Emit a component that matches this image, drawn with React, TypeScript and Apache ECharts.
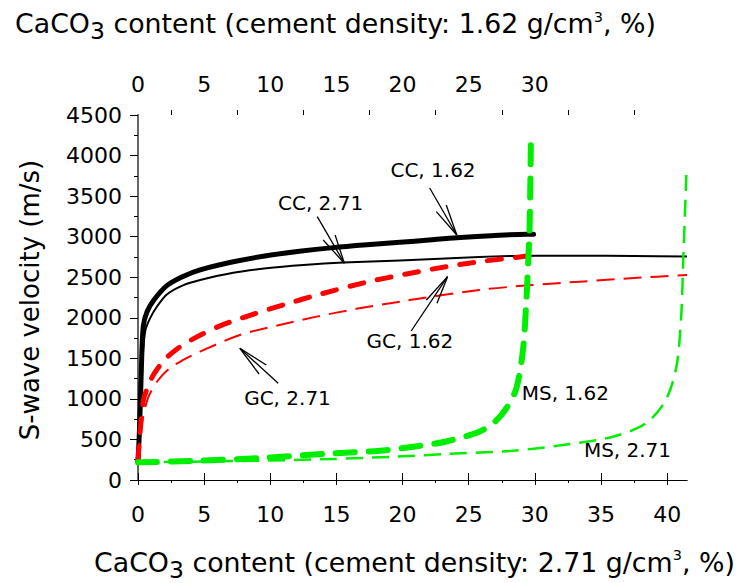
import React, { useEffect, useRef } from 'react';
import * as echarts from 'echarts';

// ---------- axis definitions ----------
const X_MIN = 0;
const X_MAX = 41.5;
const xMajorTicks = [0, 5, 10, 15, 20, 25, 30, 35, 40];
const xMinorTicks = [2.5, 7.5, 12.5, 17.5, 22.5, 27.5, 32.5, 37.5];
const topLabelValues = [0, 5, 10, 15, 20, 25, 30];
const Y_MIN = 0;
const Y_MAX = 4500;
const Y_STEP = 500;

// ---------- series data [CaCO3 %, Vs m/s] ----------
const cc162: [number, number][] = [
  [0, 230], [0.12, 650], [0.25, 1350], [0.4, 1900], [0.7, 2080], [1.2, 2220],
  [2.2, 2400], [3.4, 2510], [4.7, 2590], [7.2, 2690], [9.7, 2765], [12.2, 2820],
  [14.75, 2865], [17.3, 2900], [19.8, 2930], [22, 2960], [24.1, 2988],
  [26.7, 3012], [29.4, 3030], [29.9, 3030],
];
const cc271: [number, number][] = [
  [0, 230], [0.15, 700], [0.35, 1500], [0.55, 1840], [0.9, 1990], [1.4, 2130],
  [2.2, 2290], [3.4, 2400], [4.7, 2466], [7.2, 2555], [9.7, 2610], [12.5, 2650],
  [15.5, 2680], [19.8, 2705], [25.8, 2750], [30, 2765], [33.4, 2766],
  [37.5, 2762], [41.5, 2755],
];
const gc162: [number, number][] = [
  [0, 240], [0.15, 575], [0.4, 980], [0.65, 1110], [1.16, 1295], [2.0, 1480],
  [2.9, 1610], [4.18, 1740], [6.2, 1900], [8.46, 2030], [11.2, 2170],
  [13.75, 2290], [17.3, 2440], [20.3, 2540], [23.3, 2630], [26.2, 2700],
  [28.85, 2750], [29.5, 2765],
];
const gc271: [number, number][] = [
  [0, 240], [0.3, 700], [0.78, 1020], [1.53, 1233], [2.4, 1380], [3.42, 1480],
  [4.68, 1582], [7.7, 1788], [10.7, 1911], [13.5, 2014], [16.5, 2110],
  [19.8, 2199], [25.8, 2343], [29.5, 2400], [33.4, 2445], [37.5, 2490],
  [41.5, 2528],
];
const ms162: [number, number][] = [
  [0, 218], [4.68, 238], [9.7, 275], [14.75, 329], [18.3, 362], [20.8, 411],
  [23.3, 475], [25.8, 596], [27.0, 720], [27.9, 900], [28.6, 1130], [29.1, 1600],
  [29.36, 2220], [29.5, 2700], [29.6, 3100], [29.7, 4180],
];
const ms271: [number, number][] = [
  [0, 218], [5, 228], [10, 240], [14.75, 259], [19.3, 287], [23.3, 321],
  [28.35, 361], [32.1, 431], [35.9, 534], [38.4, 699], [39.9, 986],
  [40.7, 1397], [41.06, 2014], [41.2, 2630], [41.45, 3760],
];

// ---------- annotations (data coordinates) ----------
const annTexts: { text: string; at: [number, number] }[] = [
  { text: 'CC, 1.62', at: [22.3, 3822] },
  { text: 'CC, 2.71', at: [13.8, 3415] },
  { text: 'GC, 1.62', at: [20.55, 1714] },
  { text: 'GC, 2.71', at: [11.3, 1011] },
  { text: 'MS, 1.62', at: [32.3, 1073] },
  { text: 'MS, 2.71', at: [37.0, 370] },
];
// arrow: [start, tip, barb1, barb2]
const annArrows: [number, number][][] = [
  [[22.05, 3600], [24.1, 3021], [22.55, 3308], [23.3, 3391]],
  [[13.55, 3247], [15.6, 2672], [14.0, 2959], [14.9, 3021]],
  [[20.65, 1837], [23.4, 2507], [21.8, 2219], [22.6, 2179]],
  [[10.6, 1192], [7.7, 1624], [9.7, 1418], [9.15, 1307]],
];

const FONT = '"DejaVu Sans", sans-serif';

function measure(t: string, size: number): number {
  const c = document.createElement('canvas');
  const ctx = c.getContext('2d');
  if (!ctx) return t.length * size * 0.6;
  ctx.font = `${size}px "DejaVu Sans"`;
  return ctx.measureText(t).width;
}

function titleGraphic(left: number, midY: number, density: string) {
  const pieces = [
    { t: 'CaCO', s: 26.8, dy: 0 },
    { t: '3', s: 23.5, dy: 7.5 },
    { t: ` content (cement density: ${density} g/cm`, s: 26.8, dy: 0 },
    { t: '3', s: 14.5, dy: -7 },
    { t: ', %)', s: 26.8, dy: 0 },
  ];
  let x = left;
  const els: any[] = [];
  for (const p of pieces) {
    els.push({
      type: 'text',
      x,
      y: midY + p.dy,
      silent: true,
      style: {
        text: p.t,
        fontFamily: FONT,
        fontSize: p.s,
        fill: '#000',
        align: 'left',
        verticalAlign: 'middle',
      },
    });
    x += measure(p.t, p.s);
  }
  return els;
}

const lineSeries = (
  name: string,
  data: [number, number][],
  color: string,
  width: number,
  type: any,
  cap: 'round' | 'butt',
  z: number,
) => ({
  name,
  type: 'line',
  data,
  xAxisIndex: 0,
  yAxisIndex: 0,
  showSymbol: false,
  symbol: 'none',
  smooth: 0.3,
  z,
  lineStyle: { color, width, type, cap, join: 'round' },
  silent: true,
});

export default function App() {
  const ref = useRef<HTMLDivElement>(null);
  useEffect(() => {
    if (!ref.current) return;
    const chart = echarts.init(ref.current, null, { renderer: 'svg' });
    const labelStyle = {
      fontFamily: FONT, fontSize: 22, color: '#000',
      formatter: (v: number) => String(v),
    };
    const axisLine = { show: true, lineStyle: { color: '#000', width: 1 } };
    chart.setOption({
      animation: false,
      backgroundColor: '#fff',
      grid: { left: 138, top: 115, width: 549, height: 365, containLabel: false },
      xAxis: [
        {
          type: 'value', position: 'bottom', min: X_MIN, max: X_MAX,
          axisLine, splitLine: { show: false },
          axisTick: { show: true, customValues: xMajorTicks, length: 5, lineStyle: { color: '#000' } },
          axisLabel: { ...labelStyle, margin: 23, customValues: xMajorTicks },
        },
        {
          type: 'value', position: 'top', min: X_MIN, max: X_MAX,
          axisLine, splitLine: { show: false },
          axisTick: { show: true, customValues: xMajorTicks, length: 7, lineStyle: { color: '#000' } },
          axisLabel: { ...labelStyle, margin: 20, customValues: topLabelValues },
        },
        {
          type: 'value', position: 'bottom', min: X_MIN, max: X_MAX,
          axisLine: { show: false }, splitLine: { show: false },
          axisTick: { show: true, customValues: xMinorTicks, length: 3, lineStyle: { color: '#000' } },
          axisLabel: { show: false },
        },
        {
          type: 'value', position: 'top', min: X_MIN, max: X_MAX,
          axisLine: { show: false }, splitLine: { show: false },
          axisTick: { show: true, customValues: xMinorTicks, length: 5, lineStyle: { color: '#000' } },
          axisLabel: { show: false },
        },
      ],
      yAxis: [
        {
          type: 'value', position: 'left', min: Y_MIN, max: Y_MAX, interval: Y_STEP,
          axisLine, splitLine: { show: false },
          axisTick: { show: true, length: 8, lineStyle: { color: '#000' } },
          minorTick: { show: true, splitNumber: 2, length: 4, lineStyle: { color: '#000' } },
          axisLabel: { ...labelStyle, margin: 16 },
        },
        {
          type: 'value', position: 'right', min: Y_MIN, max: Y_MAX,
          axisLine: { show: true, lineStyle: { color: '#666', width: 2 } },
          axisTick: { show: false }, axisLabel: { show: false }, splitLine: { show: false },
        },
      ],
      series: [
        lineSeries('CC, 2.71', cc271, '#000', 2, 'solid', 'butt', 2),
        lineSeries('CC, 1.62', cc162, '#000', 5, 'solid', 'round', 3),
        lineSeries('GC, 2.71', gc271, '#ff0000', 2, [18, 9], 'butt', 4),
        lineSeries('GC, 1.62', gc162, '#ff0000', 5, [14, 14], 'round', 5),
        lineSeries('MS, 2.71', ms271, '#00ee00', 2.5, [17, 9], 'butt', 6),
        lineSeries('MS, 1.62', ms162, '#00ee00', 6, [19, 14], 'round', 7),
      ],
    });

    const toPx = (p: [number, number]) =>
      chart.convertToPixel({ gridIndex: 0 } as any, p) as number[];

    const g: any[] = [];
    g.push(...titleGraphic(15, 23.5, '1.62'));
    g.push(...titleGraphic(94, 562, '2.71'));
    g.push({
      type: 'text', x: 30, y: 300, rotation: Math.PI / 2, silent: true,
      style: {
        text: 'S-wave velocity (m/s)', fontFamily: FONT, fontSize: 26, fill: '#000',
        align: 'center', verticalAlign: 'middle',
      },
    });
    for (const a of annTexts) {
      const [x, y] = toPx(a.at);
      g.push({
        type: 'text', x, y, silent: true, z: 50,
        style: {
          text: a.text, fontFamily: FONT, fontSize: 20, fill: '#000',
          align: 'center', verticalAlign: 'middle',
        },
      });
    }
    for (const arr of annArrows) {
      const [s, t, b1, b2] = arr.map((p) => toPx(p));
      for (const from of [s, b1, b2]) {
        g.push({
          type: 'line', silent: true, z: 50,
          shape: { x1: from[0], y1: from[1], x2: t[0], y2: t[1] },
          style: { stroke: '#000', lineWidth: 1.3 },
        });
      }
    }
    chart.setOption({ graphic: g });

    return () => chart.dispose();
  }, []);

  return (
    <div
      ref={ref}
      style={{ position: 'fixed', left: 0, top: 0, width: 736, height: 583, background: '#fff' }}
    />
  );
}
